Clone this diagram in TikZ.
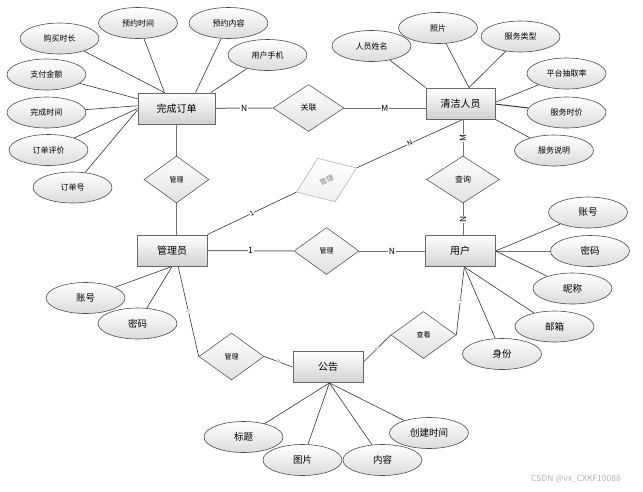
\documentclass[tikz,border=0pt]{standalone}
\usepackage{fontspec}
\setmainfont{Noto Sans CJK SC}
\usetikzlibrary{shapes.geometric,calc}
\pgfdeclarelayer{background}
\pgfsetlayers{background,main}
\begin{document}
\begin{tikzpicture}[x=1pt,y=-1pt,
  ent/.style={draw=black!60, line width=0.9pt, top color=white, bottom color=black!18,
    minimum width=#1, minimum height=31pt, inner sep=0, font=\fontsize{10}{12}\selectfont},
  ent/.default=70pt,
  attr/.style={ellipse, draw=black!70, line width=0.6pt, top color=white, bottom color=black!14,
    minimum width=79pt, minimum height=31pt, inner sep=0, font=\fontsize{8}{10}\selectfont},
  attrL/.style={attr, font=\fontsize{9.5}{11}\selectfont},
  rel/.style={diamond, draw=black!65, line width=0.6pt, top color=white, bottom color=black!12,
    minimum width=65pt, minimum height=47pt, inner sep=0, font=\fontsize{7}{8}\selectfont},
  relL/.style={rel, font=\fontsize{8}{9}\selectfont},
  conn/.style={draw=black!55, line width=1pt},
  aline/.style={draw=black!80, line width=0.6pt},
  card/.style={fill=white, inner sep=0.6pt, font=\fontsize{8.5}{9}\selectfont},
  tiny/.style={fill=white, inner sep=0.3pt, text=black!50, font=\fontsize{5}{6}\selectfont, sloped},
]
\useasboundingbox (0,0) rectangle (643,491);

% entities
\node[ent=77pt] (order) at (176.5,108.5) {完成订单};
\node[ent=69pt] (clean) at (460.5,103.5) {清洁人员};
\node[ent=70pt] (admin) at (172,250.5) {管理员};
\node[ent=70pt] (user) at (460,251) {用户};
\node[ent=70pt] (notice) at (328,367) {公告};

% relations
\node[relL, minimum width=71pt] (r1) at (308.5,108) {关联};
\node[rel] (r2) at (176.5,179.5) {管理};
\node[relL, minimum width=73pt] (r3) at (463,179.5) {查询};
\node[rel] (r4) at (326.5,251) {管理};
\node[rel] (r5) at (231.5,356.5) {管理};
\node[rel] (r6) at (423.5,335) {查看};
\node[rel, rotate=22, draw=black!30, text=black!50, bottom color=black!6] (r7) at (326.5,180) {管理};

% attributes of 完成订单
\node[attr] (a1) at (59.5,38.5) {购买时长};
\node[attr] (a2) at (138,23) {预约时间};
\node[attr] (a3) at (228.5,23) {预约内容};
\node[attr] (a4) at (267.5,55) {用户手机};
\node[attr] (a5) at (46.5,74.5) {支付金额};
\node[attr] (a6) at (46.5,112.5) {完成时间};
\node[attr] (a7) at (48.5,150) {订单评价};
\node[attr] (a8) at (72.5,187.5) {订单号};

% attributes of 清洁人员
\node[attr] (c1) at (371.5,46) {人员姓名};
\node[attr] (c2) at (438,28) {照片};
\node[attr] (c3) at (520.5,36.5) {服务类型};
\node[attr] (c4) at (566.5,73.5) {平台抽取率};
\node[attr] (c5) at (566.5,112.5) {服务时价};
\node[attr] (c6) at (554,150.5) {服务说明};

% attributes of 用户
\node[attrL] (u1) at (588,212.5) {账号};
\node[attrL] (u2) at (590,251) {密码};
\node[attrL] (u3) at (572.5,288.5) {昵称};
\node[attrL] (u4) at (554.5,326.5) {邮箱};
\node[attrL] (u5) at (502,354) {身份};

% attributes of 管理员
\node[attrL] (d1) at (85.5,298) {账号};
\node[attrL] (d2) at (137.5,323.5) {密码};

% attributes of 公告
\node[attrL] (n1) at (243.5,437) {标题};
\node[attrL] (n2) at (302.5,460) {图片};
\node[attrL] (n3) at (382.5,460) {内容};
\node[attrL] (n4) at (429,433) {创建时间};

\node[text=black!30, font=\fontsize{8.5}{10}\selectfont] (wm) at (576,479) {CSDN @vx\_CXKF10088};

\begin{pgfonlayer}{background}
% attribute lines
\draw[aline] (a1) -- (order.127);
\draw[aline] (a2) -- (order.127);
\draw[aline] (a3) -- (order.40);
\draw[aline] (a4) -- (order.25);
\draw[aline] (a5) -- (order.166);
\draw[aline] (a6) -- (order.176);
\draw[aline] (a7) -- (order.180);
\draw[aline] (a8) -- (order.182);

\draw[aline] (c1) -- (clean.north west);
\draw[aline] (c2) -- (clean.62);
\draw[aline] (c3) -- (clean.62);
\draw[aline] (c4) -- (clean.2);
\draw[aline, line width=1pt] (c5) -- (clean.-1);
\draw[aline] (c6) -- (clean.south east);

\draw[aline] (u1) -- (user.east);
\draw[aline, draw=black!55, line width=1pt] (u2) -- (user.east);
\draw[aline] (u3) -- (user.east);
\draw[aline] (u4) -- (user.-75);
\draw[aline] (u5) -- (user.-75);

\draw[aline] (d1) -- (admin.south);
\draw[aline] (d2) -- (admin.south);

\draw[aline] (n1) -- (notice.-85);
\draw[aline] (n2) -- (notice.-85);
\draw[aline] (n3) -- (notice.-85);
\draw[aline] (n4) -- (notice.-85);

% relationship lines
\draw[conn] (order) -- (r1.west) node[card, midway] {N};
\draw[conn] (r1.east) -- (r1 -| clean.west) node[card, midway] {M};
\draw[conn] (order) -- (r2);
\draw[conn] (r2.south) -- (r2 |- admin.north);
\draw[aline] (admin.north east) -- (r7.west) node[card, midway, sloped, inner sep=0.3pt, font=\fontsize{7}{8}\selectfont] {1};
\draw[aline] (r7.east) -- (r3 |- clean.south) node[card, midway, sloped, inner sep=0.3pt, font=\fontsize{7}{8}\selectfont] {N};
\draw[conn] (r3 |- clean.south) -- (r3.north) node[card, midway, rotate=90] {M};
\draw[conn] (r3.south) -- (r3 |- user.north) node[card, midway, rotate=90] {N};
\draw[conn] (admin.east) -- (r4.west) node[card, midway] {1};
\draw[conn] (r4.east) -- (user.west) node[card, midway] {N};
\draw[aline] (admin.-69) -- (r5.west) node[tiny, midway] {1};
\draw[aline] (r5.east) -- (notice.west) node[tiny, midway] {N};
\draw[aline] (notice.8) -- (r6.west) node[tiny, midway] {N};
\draw[aline] (r6.east) -- (user.-75) node[tiny, midway] {1};
\end{pgfonlayer}
\end{tikzpicture}
\end{document}
